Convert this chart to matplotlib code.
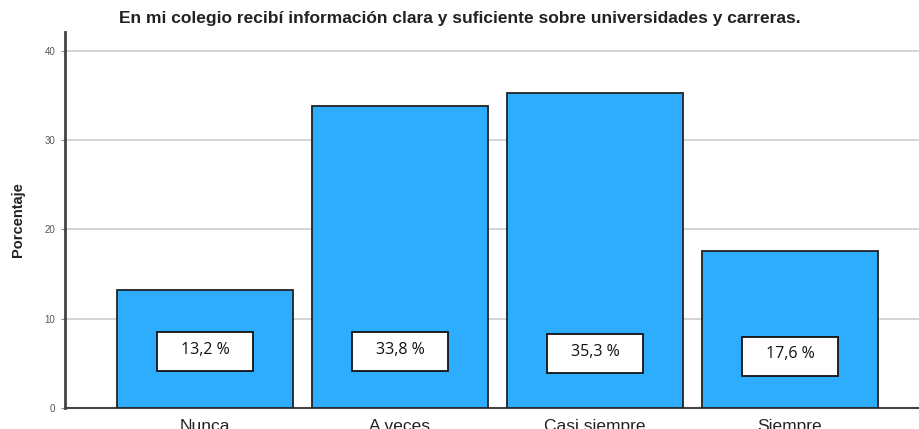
import matplotlib
matplotlib.use("Agg")
import matplotlib.pyplot as plt
from matplotlib.patches import Rectangle

categories = ["Nunca", "A veces", "Casi siempre", "Siempre"]
values = [13.2, 33.8, 35.3, 17.6]
labels = ["13,2 %", "33,8 %", "35,3 %", "17,6 %"]
label_pos = [6.3, 6.3, 6.1, 5.8]
yticks = [0, 10, 20, 30, 40]

plt.rcParams['font.family'] = ['Liberation Sans', 'DejaVu Sans']

W, H = 920, 429
fig = plt.figure(figsize=(W/100, H/100), dpi=100)
ax = fig.add_axes([65/W, (H-408)/H, (920-65)/W, 376/H])

x = list(range(len(categories)))
ax.bar(x, values, width=0.9, color="#2EADFF", edgecolor="#222222", linewidth=1.3, zorder=3)
bw, bh = 0.49, 4.37
for xi, v, lab, lp in zip(x, values, labels, label_pos):
    ax.add_patch(Rectangle((xi - bw/2, lp - bh/2), bw, bh, facecolor="white",
                           edgecolor="#111111", linewidth=1.3, zorder=4))
    ax.text(xi, lp + 0.2, lab, ha="center", va="center", fontsize=11.5, color="#111111",
            family=["Open Sans", "DejaVu Sans"], zorder=5)

ax.set_xlim(-0.718, 3.667)
ax.set_ylim(0, 42.1)
ax.set_yticks(yticks)
ax.set_yticklabels([str(t) for t in yticks], fontsize=7, color="#555555")
ax.set_xticks(x)
ax.set_xticklabels(categories, fontsize=12.5, color="#222222")
ax.tick_params(axis="x", length=0, pad=8)
ax.tick_params(axis="y", length=3, width=0.8, color="#888888", pad=4)
ax.yaxis.grid(True, color="#d4d4d4", linewidth=1.4, zorder=0)
ax.set_axisbelow(True)
for s in ["top", "right"]:
    ax.spines[s].set_visible(False)
ax.spines["left"].set_color("#444444")
ax.spines["left"].set_linewidth(2)
ax.spines["bottom"].set_color("#444444")
ax.spines["bottom"].set_linewidth(1.5)

ax.set_ylabel("Porcentaje", fontsize=10.5, fontweight="bold", color="#222222", labelpad=14)
fig.text(0.5, 1 - 18/H, "En mi colegio recibí información clara y suficiente sobre universidades y carreras.",
         ha="center", va="center", fontsize=12.5, fontweight="bold", color="#222222")

fig.savefig("out.png", dpi=100)
